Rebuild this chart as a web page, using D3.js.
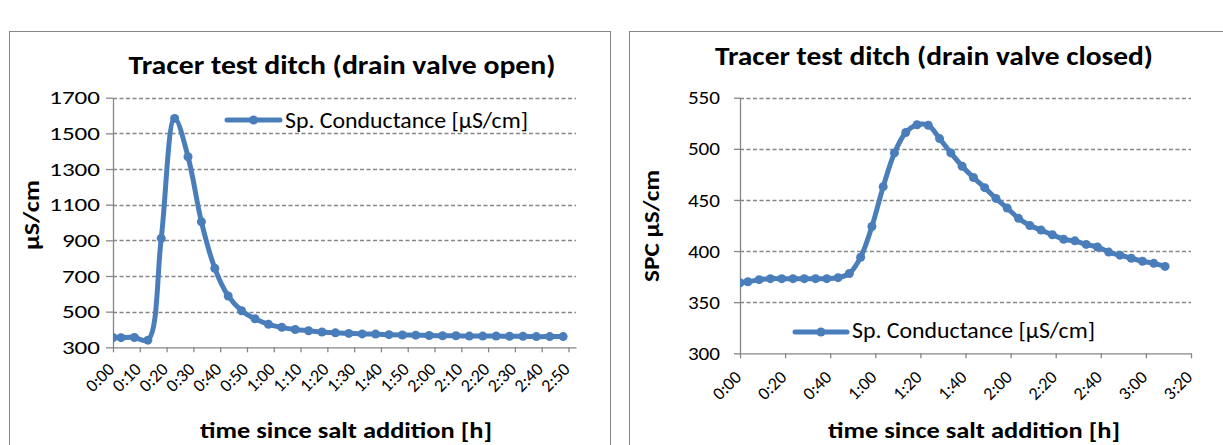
<!DOCTYPE html>
<html>
<head>
<meta charset="utf-8">
<script src="https://cdn.jsdelivr.net/npm/d3@7"></script>
<style>
  html, body { margin: 0; padding: 0; background: #fff; }
  svg { display: block; }
  text { font-family: Carlito, Lato, "Open Sans", sans-serif; fill: #000; }
</style>
</head>
<body>
<svg id="chart" width="1223" height="445"></svg>
<script>
// ---------- DATA ----------
const seriesName = "Sp. Conductance [\u00B5S/cm]";

// Left chart: drain valve open (time in minutes since salt addition)
const openTimes = [0, 3, 8, 13, 18, 23, 28, 33, 38, 43, 48, 53, 58, 63, 68, 73, 78, 83, 88, 93,
                   98, 103, 108, 113, 118, 123, 128, 133, 138, 143, 148, 153, 158, 163, 168];
const openValues = [355, 354, 355, 340, 911, 1584, 1369, 1004, 743, 588, 505, 460, 429, 412, 400, 393, 386, 381, 378, 375,
                    374, 371, 369, 368, 366, 365, 365, 363, 363, 363, 362, 362, 360, 360, 360];
const openXTickMinutes = [0, 10, 20, 30, 40, 50, 60, 70, 80, 90, 100, 110, 120, 130, 140, 150, 160, 170];
const openXTickLabels = ["0:00","0:10","0:20","0:30","0:40","0:50","1:00","1:10","1:20","1:30","1:40","1:50",
                         "2:00","2:10","2:20","2:30","2:40","2:50"];
const openYTicks = [300, 500, 700, 900, 1100, 1300, 1500, 1700];

// Right chart: drain valve closed
const closedTimes = [0, 3.5, 8.5, 13.5, 18.5, 23.5, 28.5, 33.5, 38.5, 43.5, 48.5, 53.5, 58.5, 63.5, 68.5, 73.5,
                     78.5, 83.5, 88.5, 93.5, 98.5, 103.5, 108.5, 113.5, 118.5, 123.5, 128.5, 133.5, 138.5,
                     143.5, 148.5, 153.5, 158.5, 163.5, 168.5, 173.5, 178.5, 183.5, 188.5];
const closedValues = [369, 370, 372, 373, 373, 373, 373, 373, 373, 374, 378, 394, 424, 463, 496, 516,
                      523.5, 523, 510, 496, 483, 472, 462, 451.5, 442, 432, 425, 420.5, 416,
                      411.5, 410, 406.5, 404, 399, 396, 393, 390, 388, 385];
const closedXTickMinutes = [0, 20, 40, 60, 80, 100, 120, 140, 160, 180, 200];
const closedXTickLabels = ["0:00","0:20","0:40","1:00","1:20","1:40","2:00","2:20","2:40","3:00","3:20"];
const closedYTicks = [300, 350, 400, 450, 500, 550];

// ---------- DRAWING ----------
const svg = d3.select("#chart");
const BLUE = "#4A7EBB";
const GRAY = "#868686";

function fit(sel, len) {
  sel.attr("textLength", len).attr("lengthAdjust", "spacingAndGlyphs");
}

function drawChart(cfg) {
  const g = svg.append("g");
  // outer chart border
  g.append("rect")
    .attr("x", cfg.box[0] + 0.5).attr("y", cfg.box[1] + 0.5)
    .attr("width", cfg.box[2]).attr("height", cfg.box[3])
    .attr("fill", "#fff").attr("stroke", GRAY).attr("stroke-width", 1);

  const x = d3.scaleLinear().domain(cfg.xDomain).range([cfg.plot.x0, cfg.plot.x1]);
  const y = d3.scaleLinear().domain(cfg.yDomain).range([cfg.plot.y0, cfg.plot.y1]);

  // gridlines
  g.append("g").selectAll("line")
    .data(cfg.yTicks.filter(v => v !== cfg.yDomain[0]))
    .join("line")
    .attr("x1", cfg.plot.x0).attr("x2", cfg.plot.x1)
    .attr("y1", d => Math.round(y(d)) + 0.5).attr("y2", d => Math.round(y(d)) + 0.5)
    .attr("stroke", GRAY).attr("stroke-width", 1.3).attr("stroke-dasharray", "4,2.5");

  // y axis
  const yAxis = d3.axisLeft(y).tickValues(cfg.yTicks).tickSizeInner(cfg.yTickSize).tickSizeOuter(0)
    .tickPadding(cfg.yTickPad).tickFormat(d3.format("d"));
  const ya = g.append("g").attr("transform", `translate(${cfg.plot.x0},0)`).call(yAxis);
  ya.attr("font-family", null).attr("font-size", null);
  ya.select(".domain").attr("stroke", GRAY).attr("stroke-width", 1.3);
  ya.selectAll(".tick line").attr("stroke", GRAY).attr("stroke-width", 1.3);
  ya.selectAll(".tick text")
    .attr("font-size", 18).attr("dy", "0.34em")
    .each(function(d) { fit(d3.select(this), String(d).length * cfg.yDigitW); });

  // x axis
  const xAxis = d3.axisBottom(x).tickValues(cfg.xTicks).tickSizeInner(5).tickSizeOuter(0)
    .tickFormat((d, i) => cfg.xLabels[i]);
  const xa = g.append("g").attr("transform", `translate(0,${cfg.plot.y0})`).call(xAxis);
  xa.attr("font-family", null).attr("font-size", null);
  xa.select(".domain").attr("stroke", GRAY).attr("stroke-width", 1.3);
  xa.selectAll(".tick line").attr("stroke", GRAY).attr("stroke-width", 1.3);
  xa.selectAll(".tick text")
    .attr("font-size", 18)
    .attr("x", 0).attr("y", 0).attr("dy", 0)
    .attr("text-anchor", "end")
    .attr("transform", `translate(2,${cfg.xLabelOff}) rotate(-45)`);

  // clip
  const clipId = "clip" + cfg.id;
  svg.append("clipPath").attr("id", clipId).append("rect")
    .attr("x", cfg.plot.x0).attr("y", cfg.plot.y1 - 6)
    .attr("width", cfg.plot.x1 - cfg.plot.x0).attr("height", cfg.plot.y0 - cfg.plot.y1 + 6);

  const pts = cfg.times.map((t, i) => [t, cfg.values[i]]);
  const line = d3.line().x(d => x(d[0])).y(d => y(d[1])).curve(d3.curveCatmullRom.alpha(0.5));
  const s = g.append("g").attr("clip-path", `url(#${clipId})`);
  s.append("path").datum(pts).attr("d", line)
    .attr("fill", "none").attr("stroke", BLUE).attr("stroke-width", 5)
    .attr("stroke-linejoin", "round").attr("stroke-linecap", "round");
  s.selectAll("circle").data(pts).join("circle")
    .attr("cx", d => x(d[0])).attr("cy", d => y(d[1])).attr("r", 4.5).attr("fill", BLUE);

  // title
  g.append("text").attr("x", cfg.title.x).attr("y", cfg.title.y)
    .attr("text-anchor", "middle").attr("font-weight", "bold").attr("font-size", 27)
    .text(cfg.title.text).call(fit, cfg.title.w);

  // x axis title
  g.append("text").attr("x", cfg.xTitle.x).attr("y", cfg.xTitle.y)
    .attr("text-anchor", "middle").attr("font-weight", "bold").attr("font-size", 22)
    .text("time since salt addition [h]").call(fit, cfg.xTitle.w);

  // y axis title
  g.append("text")
    .attr("transform", `translate(${cfg.yTitle.x},${cfg.yTitle.y}) rotate(-90)`)
    .attr("text-anchor", "middle").attr("font-weight", "bold").attr("font-size", 22)
    .text(cfg.yTitle.text).call(fit, cfg.yTitle.w);

  // legend
  const L = cfg.legend;
  g.append("line").attr("x1", L.x1).attr("x2", L.x2).attr("y1", L.y).attr("y2", L.y)
    .attr("stroke", BLUE).attr("stroke-width", 5).attr("stroke-linecap", "round");
  g.append("circle").attr("cx", (L.x1 + L.x2) / 2).attr("cy", L.y).attr("r", 4.5).attr("fill", BLUE);
  g.append("text").attr("x", L.tx).attr("y", L.ty).attr("font-size", 23)
    .text(seriesName).call(fit, 243);
}

drawChart({
  id: "L",
  box: [9, 31, 601, 420],
  plot: { x0: 113, x1: 576, y0: 347.3, y1: 97.7 },
  xDomain: [0, 172.8], yDomain: [300, 1700],
  yTicks: openYTicks, yTickSize: 7, yTickPad: 6, yDigitW: 12.7,
  xTicks: openXTickMinutes, xLabels: openXTickLabels, xLabelOff: 23,
  times: openTimes, values: openValues,
  title: { text: "Tracer test ditch (drain valve open)", x: 342, y: 74, w: 427 },
  xTitle: { x: 346, y: 438, w: 292 },
  yTitle: { text: "\u00B5S/cm", x: 39, y: 215, w: 70 },
  legend: { x1: 227, x2: 280, y: 120, tx: 285, ty: 128 }
});

drawChart({
  id: "R",
  box: [629, 31, 600, 420],
  plot: { x0: 740, x1: 1191, y0: 353.3, y1: 97.7 },
  xDomain: [0, 200], yDomain: [300, 550],
  yTicks: closedYTicks, yTickSize: 6, yTickPad: 14, yDigitW: 10.7,
  xTicks: closedXTickMinutes, xLabels: closedXTickLabels, xLabelOff: 25,
  times: closedTimes, values: closedValues,
  title: { text: "Tracer test ditch (drain valve closed)", x: 934, y: 65, w: 438 },
  xTitle: { x: 974, y: 438, w: 292 },
  yTitle: { text: "SPC  \u00B5S/cm", x: 659, y: 226, w: 112 },
  legend: { x1: 795, x2: 847, y: 332, tx: 852, ty: 338 }
});
</script>
</body>
</html>
